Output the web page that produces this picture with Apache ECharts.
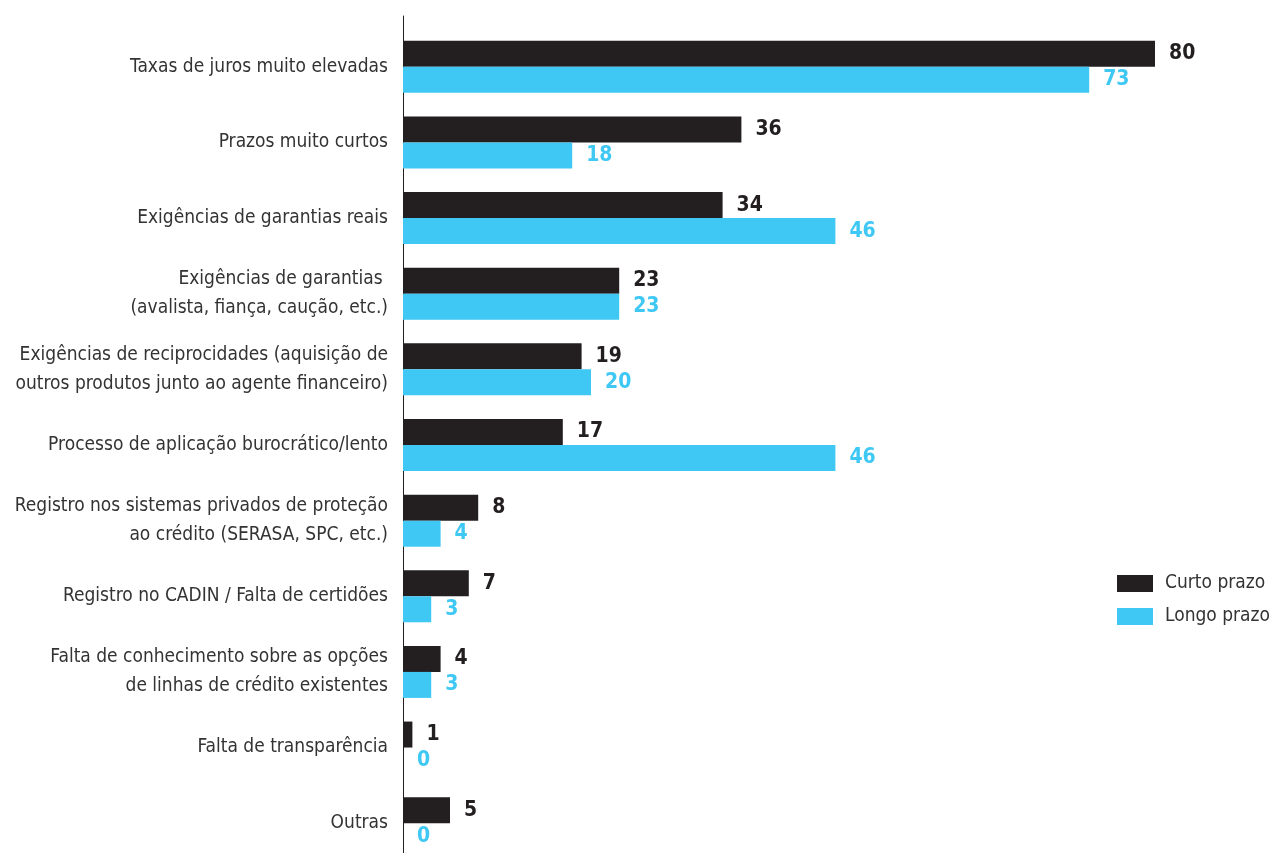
<!DOCTYPE html>
<html>
<head>
<meta charset="utf-8">
<script src="https://cdn.jsdelivr.net/npm/echarts@6/dist/echarts.min.js"></script>
<style>
  html, body { margin: 0; padding: 0; background: #fff; }
  #chart { width: 1273px; height: 853px; }
</style>
</head>
<body>
<div id="chart"></div>
<script>
// Obstáculos ao crédito — percentual de respostas por prazo
const categories = [
  'Taxas de juros muito elevadas',
  'Prazos muito curtos',
  'Exigências de garantias reais',
  'Exigências de garantias \n(avalista, fiança, caução, etc.)',
  'Exigências de reciprocidades (aquisição de\noutros produtos junto ao agente financeiro)',
  'Processo de aplicação burocrático/lento',
  'Registro nos sistemas privados de proteção\nao crédito (SERASA, SPC, etc.)',
  'Registro no CADIN / Falta de certidões',
  'Falta de conhecimento sobre as opções\nde linhas de crédito existentes',
  'Falta de transparência',
  'Outras'
];
const curtoPrazo = [80, 36, 34, 23, 19, 17, 8, 7, 4, 1, 5];
const longoPrazo = [73, 18, 46, 23, 20, 46, 4, 3, 3, 0, 0];
const seriesNames = ['Curto prazo', 'Longo prazo'];

const FONT = "'Liberation Sans Narrow', 'DejaVu Sans Condensed', 'Roboto', sans-serif";
const DARK = '#231f20';
const BLUE = '#3fc8f4';

const chart = echarts.init(document.getElementById('chart'), null, { renderer: 'canvas' });

function valueLabel(color) {
  return {
    show: true,
    position: 'right',
    distance: 14,
    color: color,
    fontFamily: FONT,
    fontWeight: 'bold',
    fontSize: 21
  };
}

chart.setOption({
  animation: false,
  grid: [
    { left: 403, right: 118, top: 29, bottom: -8, containLabel: false, outerBoundsMode: 'none' },
    // second grid only carries the vertical baseline, which runs higher than the bands
    { left: 403, right: 118, top: 16, bottom: -8, containLabel: false, outerBoundsMode: 'none' }
  ],
  legend: {
    orient: 'vertical',
    left: 1117,
    top: 570,
    padding: 0,
    itemWidth: 36,
    itemHeight: 17,
    itemGap: 6,
    icon: 'rect',
    textStyle: { fontFamily: FONT, fontSize: 19, lineHeight: 27, color: '#333', padding: [0, 0, 0, 7] },
    data: seriesNames
  },
  xAxis: [
    { type: 'value', gridIndex: 0, min: 0, max: 80, show: false },
    { type: 'value', gridIndex: 1, min: 0, max: 80, show: false }
  ],
  yAxis: [
    {
      type: 'category',
      gridIndex: 0,
      inverse: true,
      data: categories,
      axisLine: { show: false },
      axisTick: { show: false },
      splitLine: { show: false },
      axisLabel: {
        margin: 15,
        align: 'right',
        fontFamily: FONT,
        fontSize: 19,
        lineHeight: 29,
        color: '#333'
      }
    },
    {
      type: 'value',
      gridIndex: 1,
      min: 0,
      max: 1,
      axisLine: { show: true, lineStyle: { color: DARK, width: 1 } },
      axisTick: { show: false },
      axisLabel: { show: false },
      splitLine: { show: false }
    }
  ],
  series: [
    {
      name: seriesNames[0],
      type: 'bar',
      xAxisIndex: 0,
      yAxisIndex: 0,
      data: curtoPrazo,
      barWidth: 26,
      barGap: '0%',
      itemStyle: { color: DARK },
      label: valueLabel(DARK)
    },
    {
      name: seriesNames[1],
      type: 'bar',
      xAxisIndex: 0,
      yAxisIndex: 0,
      data: longoPrazo,
      barWidth: 26,
      barGap: '0%',
      itemStyle: { color: BLUE },
      label: valueLabel(BLUE)
    }
  ]
});
</script>
</body>
</html>
